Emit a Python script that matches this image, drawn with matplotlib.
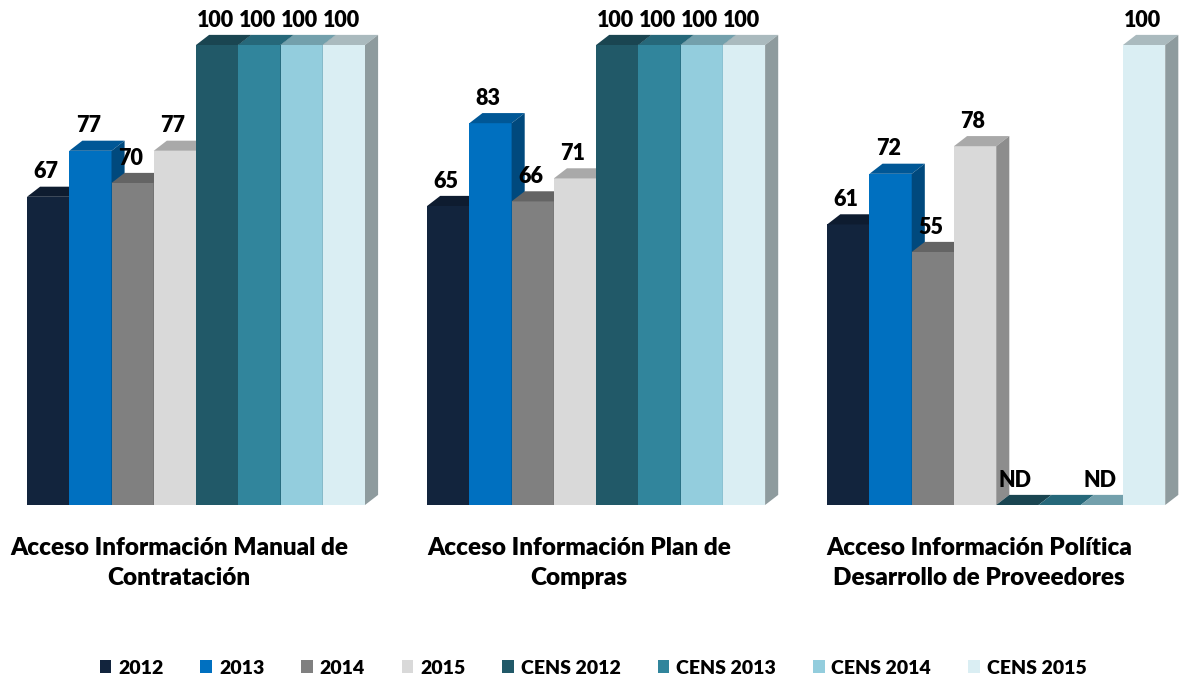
import matplotlib.pyplot as plt
from matplotlib.patches import Polygon, Patch
from matplotlib.colors import to_rgb

categories = ['Acceso Información Manual de\nContratación',
              'Acceso Información Plan de\nCompras',
              'Acceso Información Política\nDesarrollo de Proveedores']
series = ['2012', '2013', '2014', '2015',
          'CENS 2012', 'CENS 2013', 'CENS 2014', 'CENS 2015']
values = [
    [67, 77, 70, 77, 100, 100, 100, 100],
    [65, 83, 66, 71, 100, 100, 100, 100],
    [61, 72, 55, 78, 0, 0, 0, 100],
]
labels = [
    ['67', '77', '70', '77', '100', '100', '100', '100'],
    ['65', '83', '66', '71', '100', '100', '100', '100'],
    ['61', '72', '55', '78', 'ND', '', 'ND', '100'],
]
colors = ['#12243D', '#0070C0', '#808080', '#D9D9D9',
          '#215968', '#31859C', '#93CDDD', '#DAEEF3']

plt.rcParams['font.family'] = ['Lato', 'DejaVu Sans']
plt.rcParams['font.weight'] = 'heavy'

fig = plt.figure(figsize=(11.86, 6.81), dpi=100)
ax = fig.add_axes([0, 0, 1, 1])
ax.set_xlim(-27 / 42.25, (1186 - 27) / 42.25)
ax.set_ylim(-176 / 4.6, (681 - 176) / 4.6)
ax.axis('off')

group_step = 9.47
dx, dy = 0.31, 2.2  # profundidad del efecto 3D


def shade(c, f):
    r, g, b = to_rgb(c)
    return (r * f, g * f, b * f)


for g, vals in enumerate(values):
    x0 = g * group_step
    for i, v in enumerate(vals):
        x = x0 + i
        c = colors[i]
        # cara frontal
        ax.add_patch(Polygon([(x, 0), (x + 1, 0), (x + 1, v), (x, v)],
                             closed=True, fc=c, ec='none', zorder=2))
        # cara superior
        ax.add_patch(Polygon([(x, v), (x + 1, v), (x + 1 + dx, v + dy), (x + dx, v + dy)],
                             closed=True, fc=shade(c, 0.78), ec='none', zorder=2))
        # cara lateral
        ax.add_patch(Polygon([(x + 1, 0), (x + 1 + dx, dy), (x + 1 + dx, v + dy), (x + 1, v)],
                             closed=True, fc=shade(c, 0.65), ec='none', zorder=2))
        if labels[g][i]:
            ax.text(x + 0.45, v + 5.4, labels[g][i], ha='center', va='center',
                    fontsize=15.5, fontweight='heavy', color='black', zorder=3)
    ax.text(x0 + 3.6, -12.6, categories[g], ha='center', va='center',
            fontsize=17.5, fontweight='heavy', color='black', linespacing=1.4)

handles = [Patch(fc=c, ec='none') for c in colors]
fig.legend(handles, series, loc='center', bbox_to_anchor=(0.5, 13 / 681), ncol=8,
           frameon=False, handlelength=0.6, handleheight=0.6,
           handletextpad=0.35, columnspacing=1.9, prop={'weight': 'heavy', 'size': 14})

plt.savefig('out.png', dpi=100)
